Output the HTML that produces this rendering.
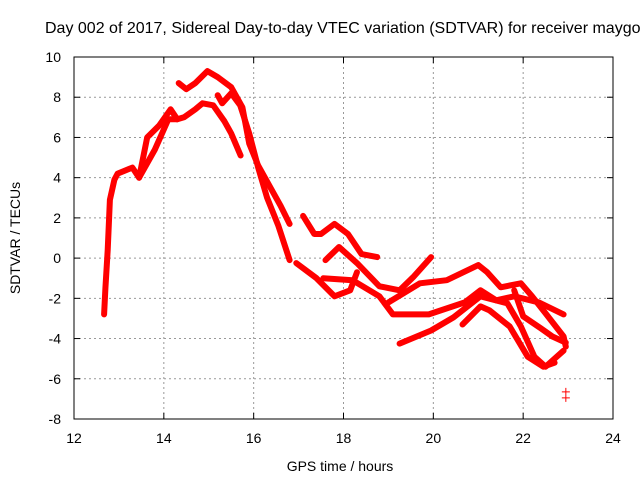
<!DOCTYPE html>
<html><head><meta charset="utf-8"><style>
body{margin:0;background:#fff;overflow:hidden;}
svg text{font-family:"Liberation Sans",sans-serif;font-size:14px;fill:#000;}
</style></head><body>
<svg width="640" height="480" viewBox="0 0 640 480">
<text x="45" y="33" style="font-size:16px">Day 002 of 2017, Sidereal Day-to-day VTEC variation (SDTVAR) for receiver maygo</text>
<g id="grid"></g>
<g id="series"></g>
<rect x="74" y="57" width="539" height="362" fill="none" stroke="#000" stroke-width="1"/>
<g id="ticks"></g>
<text x="340" y="471" text-anchor="middle">GPS time / hours</text>
<text transform="translate(20,238) rotate(-90)" text-anchor="middle">SDTVAR / TECUs</text>
</svg>
<script>
const xTicks=[12,14,16,18,20,22,24];
const yTicks=[-8,-6,-4,-2,0,2,4,6,8,10];
const trackRise=[[12.67,-2.8],[12.7,-1.5],[12.75,0.4],[12.8,2.9],[12.9,3.9],[12.97,4.2],[13.3,4.5],[13.45,4.0],[13.63,6.0],[13.9,6.6],[14.15,7.4],[14.3,6.9],[14.45,7.0],[14.7,7.4],[14.86,7.7],[15.1,7.6],[15.35,6.8],[15.5,6.2],[15.71,5.1]];
const trackRiseB=[[13.45,4.0],[13.8,5.4],[14.1,6.9],[14.3,6.9]];
const trackUpper=[[14.33,8.7],[14.5,8.4],[14.7,8.7],[14.97,9.3],[15.2,9.0],[15.5,8.5],[15.75,7.5],[15.9,5.7],[16.1,4.6],[16.4,3.4],[16.6,2.6],[16.8,1.7]];
const trackUpperB=[[15.2,8.1],[15.3,7.7],[15.5,8.2],[15.7,7.6],[15.9,6.2],[16.1,4.5],[16.3,3.0],[16.55,1.6],[16.8,-0.1]];
const trackS1=[[17.1,2.1],[17.35,1.2],[17.5,1.2],[17.8,1.7],[18.1,1.2],[18.4,0.2],[18.75,0.05]];
const trackS2=[[16.95,-0.25],[17.4,-1.0],[17.8,-1.9],[18.15,-1.6],[18.3,-0.7]];
const trackS3=[[17.6,-0.1],[17.9,0.55],[18.3,-0.25],[18.8,-1.4],[19.25,-1.6],[19.55,-0.95],[19.95,0.05]];
const trackS4=[[17.55,-1.0],[18.2,-1.1],[18.8,-1.9],[19.1,-2.8],[19.9,-2.8],[20.7,-2.2],[21.05,-1.6],[21.4,-2.1],[21.8,-1.9],[22.35,-2.2],[22.9,-2.8]];
const trackS5=[[19.0,-2.2],[19.7,-1.25],[20.3,-1.1],[21.0,-0.35],[21.2,-0.7],[21.5,-1.45],[21.95,-1.25],[22.2,-1.9],[22.5,-2.75],[22.9,-3.9],[22.95,-4.4]];
const trackS6=[[19.25,-4.25],[19.95,-3.6],[20.45,-2.95],[21.05,-1.9],[21.65,-2.25],[21.95,-3.4],[22.25,-4.9],[22.5,-5.4],[22.9,-4.6]];
const trackS7=[[20.65,-3.3],[21.05,-2.4],[21.25,-2.6],[21.7,-3.4],[22.1,-4.9],[22.45,-5.4],[22.7,-5.2]];
const trackS8=[[21.8,-1.6],[22.0,-2.9],[22.4,-3.5],[22.65,-3.9],[22.95,-4.2]];
const outlier=[[22.95,-6.8]];
const tracks=[trackRise,trackRiseB,trackUpper,trackUpperB,trackS1,trackS2,trackS3,trackS4,trackS5,trackS6,trackS7,trackS8];
const X0=74,X1=613,Y0=419,Y1=57;
function xs(h){return X0+(h-12)/12*(X1-X0);}
function ys(v){return Y0-(v+8)/18*(Y0-Y1);}
const NS="http://www.w3.org/2000/svg";
const grid=document.getElementById('grid'),ticks=document.getElementById('ticks'),ser=document.getElementById('series');
function mk(tag,attrs,parent){const e=document.createElementNS(NS,tag);for(const k in attrs)e.setAttribute(k,attrs[k]);parent.appendChild(e);return e;}
xTicks.forEach(t=>{const x=xs(t);
 if(t>12&&t<24){const l=mk('line',{x1:x,x2:x,y1:Y1,y2:Y0,stroke:'#999','stroke-dasharray':'2,3'},grid);
 
 }
 const tx=mk('text',{x:x,y:Y0+24,'text-anchor':'middle'},ticks);tx.textContent=t;
 
 
 mk('line',{x1:x,x2:x,y1:Y0,y2:Y0-6,stroke:'#000'},ticks);mk('line',{x1:x,x2:x,y1:Y1,y2:Y1+6,stroke:'#000'},ticks);});
yTicks.forEach(t=>{const y=ys(t);
 if(t>-8&&t<10){const l=mk('line',{x1:X0,x2:X1,y1:y,y2:y,stroke:'#999','stroke-dasharray':'2,3'},grid);
 
 }
 const tx=mk('text',{x:X0-13,y:y+5,'text-anchor':'end'},ticks);tx.textContent=t;
 
 
 mk('line',{x1:X0,x2:X0+6,y1:y,y2:y,stroke:'#000'},ticks);mk('line',{x1:X1,x2:X1-6,y1:y,y2:y,stroke:'#000'},ticks);});
tracks.forEach(tr=>{const d=tr.map((p,i)=>(i?'L':'M')+xs(p[0]).toFixed(1)+','+ys(p[1]).toFixed(1)).join('');
 const p=mk('path',{d:d,fill:'none',stroke:'#ff0000','stroke-width':6,'stroke-linejoin':'round','stroke-linecap':'round'},ser);
 
 });
outlier.forEach(o=>{const x=xs(o[0]),y=ys(o[1]);
 const p=mk('path',{d:`M${x-4},${y-3}h8M${x},${y-7}v8M${x-4},${y+3}h8M${x},${y-1}v8`,stroke:'#ff0000','stroke-width':1},ser);
 
 });
</script>
</body></html>
